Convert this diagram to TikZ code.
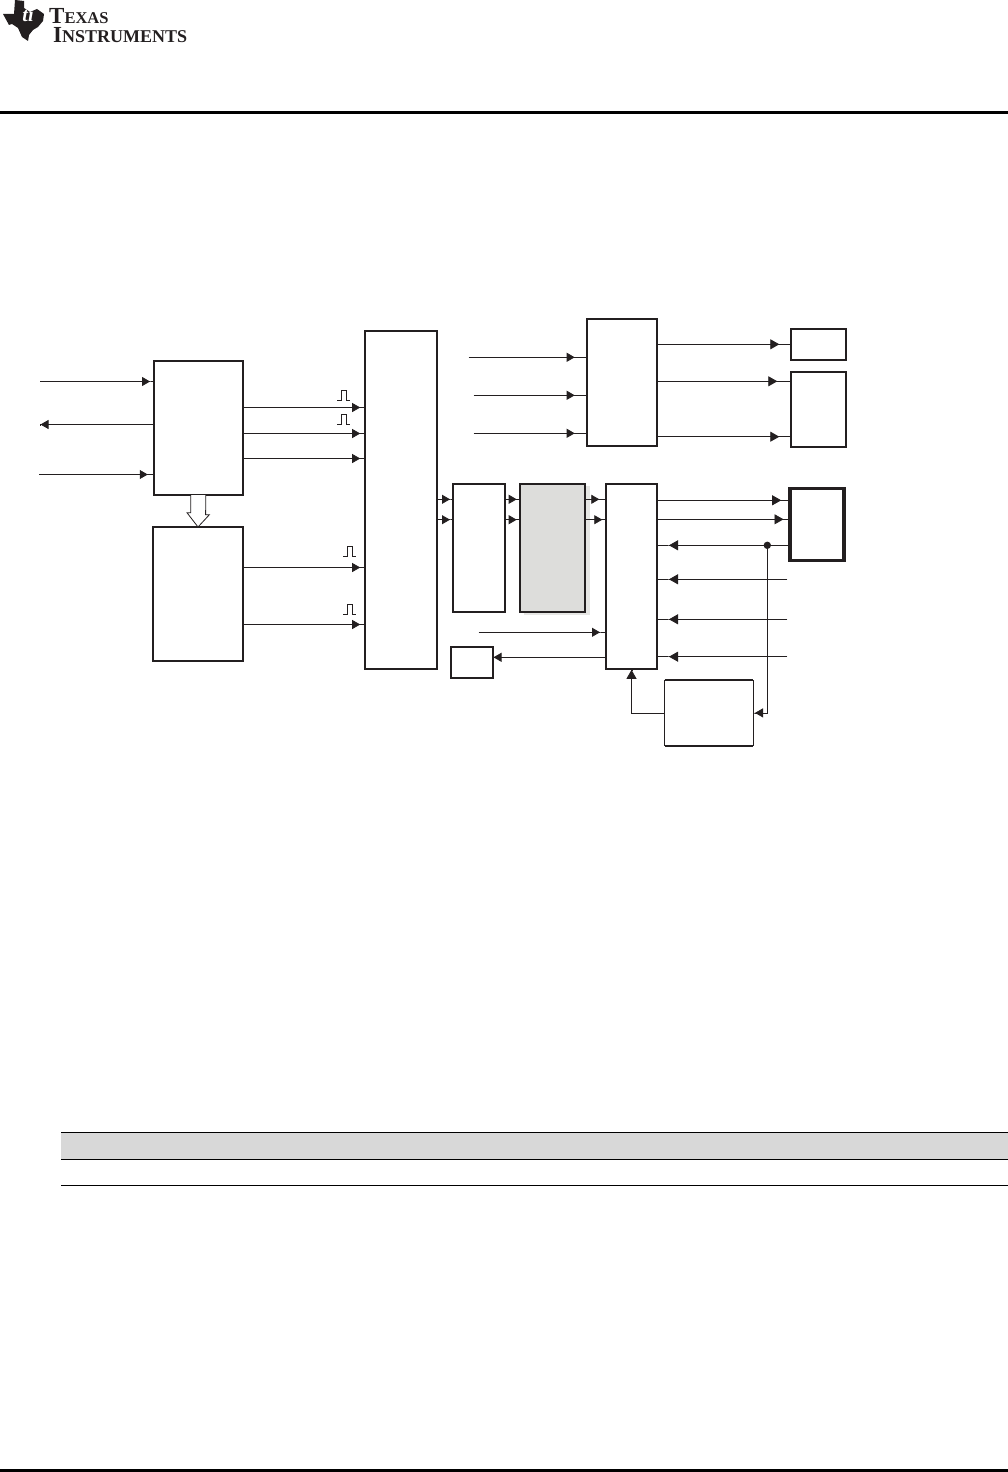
\documentclass[tikz,border=0pt]{standalone}
\usepackage{fontspec}
\setmainfont{Liberation Serif}
\usepackage{tikz}
\usetikzlibrary{arrows.meta,calc}
\usepackage{xcolor}
\definecolor{InkD}  {RGB}{35,  31,  32}
\definecolor{BlockG}{RGB}{221, 221, 219}
\definecolor{ShadeG}{RGB}{230, 230, 228}
\definecolor{BandG} {RGB}{216, 216, 216}
\newcommand{\capsword}[3]{{\bfseries\fontsize{23}{23}\selectfont #1\fontsize{#3}{#3}\selectfont #2}}
\tikzset{
  sigbox/.style={draw=InkD,line width=2pt,fill=white,inner sep=0pt,outer sep=0pt},
  sigline/.style={draw=InkD,line width=0.8pt},
  sigtip/.style={sigline,-{Triangle[length=8pt,width=9pt]Rectangle[length=#1,width=0.8pt]}},
  sigbig/.style={sigline,-{Triangle[length=9pt,width=10pt]Rectangle[length=#1,width=0.8pt]}},
  pulse/.style={draw=InkD,line width=0.6pt}
}

\begin{document}
\begin{tikzpicture}[x=1pt,y=-1pt]
  \useasboundingbox (0,0) rectangle (1008,1472);

  \fill[black] (0,111) rectangle (1008,114);
  \fill[black] (0,1468.7) rectangle (1008,1472);

  \fill[InkD] (3,14)--(14,14)--(15,0)--(24,1)--(24,8)--(30,12)--(37,9)--(44,14)--(43,21)
    --(38,27)--(33,30)--(29,35)--(28,41)--(22,37)--(18,28)--(12,24)--(9,25)--cycle;
  \node[white,inner sep=0pt,font=\fontsize{20}{20}\selectfont\bfseries\itshape] (tilogo) at (28,15) {ti};
  \node[InkD,anchor=base west,inner sep=0pt,text height=15pt,text depth=0pt] (texas) at (49,24) {\capsword{T}{EXAS}{16.5}};
  \node[InkD,anchor=base west,inner sep=0pt,text height=15pt,text depth=0pt] (instr) at (53,43) {\capsword{I}{NSTRUMENTS}{18}};

  \fill[ShadeG] (524,486) rectangle (590,614.5);
  \node[sigbox,minimum width=89.5pt,minimum height=134pt] (ctrl) at (198.3,428) {};
  \node[sigbox,minimum width=90pt,minimum height=134pt] (timer) at (198,594) {};
  \node[sigbox,minimum width=72pt,minimum height=338pt] (mid) at (400.7,500) {};
  \node[sigbox,minimum width=70.6pt,minimum height=127pt] (top) at (622,382.5) {};
  \node[sigbox,minimum width=55.6pt,minimum height=31pt] (smalla) at (818.5,344.5) {};
  \node[sigbox,minimum width=55.6pt,minimum height=75.3pt] (smallb) at (818.5,409.7) {};
  \node[sigbox,minimum width=52pt,minimum height=128pt] (blk) at (478.7,548) {};
  \node[sigbox,fill=BlockG,minimum width=64.4pt,minimum height=128pt] (grey) at (552.5,548) {};
  \node[sigbox,minimum width=51.6pt,minimum height=185.3pt] (mux) at (631.5,576.7) {};
  \node[sigbox,line width=3.5pt,minimum width=54pt,minimum height=71.6pt] (load) at (817.2,524.5) {};
  \node[sigbox,minimum width=42pt,minimum height=31pt] (tiny) at (472,662.2) {};
  \node[sigbox,line width=1pt,minimum width=88.6pt,minimum height=65.7pt] (prot) at (709,712.9) {};
  \draw[InkD,line width=2pt] (prot.north west)--(prot.north east);
  \draw[InkD,line width=2pt] (prot.south west)--(prot.south east);

  \coordinate (inA) at (40,381.5);
  \coordinate (outB) at (40,424.5);
  \coordinate (inC) at (39,474.5);
  \draw[sigtip=3.5pt] (inA) -- (inA -| ctrl.west);
  \draw[sigtip=0.5pt] (outB -| ctrl.west) -- (outB);
  \draw[sigtip=5.8pt] (inC) -- (inC -| ctrl.west);

  \foreach \y in {407.5,433.5,458.5}{
    \draw[sigtip=4.5pt] (ctrl.east |- 0,\y) -- (mid.west |- 0,\y);}
  \foreach \y in {567.5,624.5}{
    \draw[sigtip=4.5pt] (timer.east |- 0,\y) -- (mid.west |- 0,\y);}

  \foreach \x/\y in {337/400.5,337/424,343/556.7,343/614}{
    \draw[pulse] (\x,\y) -- ++(4,0) -- ++(0,-10) -- ++(5,0) -- ++(0,10) -- ++(4,0);}

  \draw[InkD,line width=0.8pt,fill=white] ($(ctrl.south)+(-7.5,0)$) -- ++(0,17.7) -- ++(-3.8,0)
    -- (timer.north) -- ++(11.4,-12.3) -- ++(-3.8,0) -- ($(ctrl.south)+(7.5,0)$);

  \coordinate (inD) at (468.7,357.3);
  \coordinate (inE) at (473.7,395.3);
  \coordinate (inF) at (473.7,433.3);
  \foreach \n in {inD,inE,inF}{
    \draw[sigtip=12pt] (\n) -- (\n -| top.west);}

  \draw[sigbig=11.4pt] (top.east |- 0,344.3) -- (smalla.west |- 0,344.3);
  \draw[sigbig=13.4pt] (top.east |- 0,381.3) -- (smallb.west |- 0,381.3);
  \draw[sigbig=11.4pt] (top.east |- 0,436.7) -- (smallb.west |- 0,436.7);

  \foreach \y in {499.3,519.7}{
    \draw[sigtip=2.7pt] (mid.east |- 0,\y) -- (blk.west |- 0,\y);
    \draw[sigtip=3.6pt] (blk.east |- 0,\y) -- (grey.west |- 0,\y);}
  \draw[sigtip=6.4pt] (grey.east |- 0,499.3) -- (mux.west |- 0,499.3);
  \draw[sigtip=3.4pt] (grey.east |- 0,519.7) -- (mux.west |- 0,519.7);

  \draw[sigbig=9pt] (mux.east |- 0,500.3) -- (load.west |- 0,500.3);
  \draw[sigbig=6.7pt] (mux.east |- 0,519.3) -- (load.west |- 0,519.3);

  \coordinate (tap) at (767.3,545.3);
  \coordinate (inG) at (787.3,579.3);
  \coordinate (inH) at (787.3,619.3);
  \coordinate (inI) at (787.3,656.7);
  \coordinate (inJ) at (478.7,632.3);
  \draw[sigbig=11.7pt] (load.west |- tap) -- (tap -| mux.east);
  \foreach \n in {inG,inH,inI}{
    \draw[sigbig=11.7pt] (\n) -- (\n -| mux.east);}
  \fill[InkD] (tap) circle (3.7pt);
  \draw[sigtip=1.7pt] (tap) |- (prot.east);
  \draw[sigtip=5.7pt] (inJ) -- (inJ -| mux.west);
  \draw[sigtip=0.5pt] (mux.west |- 0,657.3) -- (tiny.east |- 0,657.3);
  \draw[sigbig=0.5pt] (prot.west) -| (mux.south);

  \fill[BandG] (61,1132.5) rectangle (1008,1159);
  \draw[black,line width=0.8pt] (61,1132.5) -- (1008,1132.5);
  \draw[black,line width=0.8pt] (61,1159) -- (1008,1159);
  \draw[black,line width=0.8pt] (61,1185) -- (1008,1185);
\end{tikzpicture}
\end{document}
